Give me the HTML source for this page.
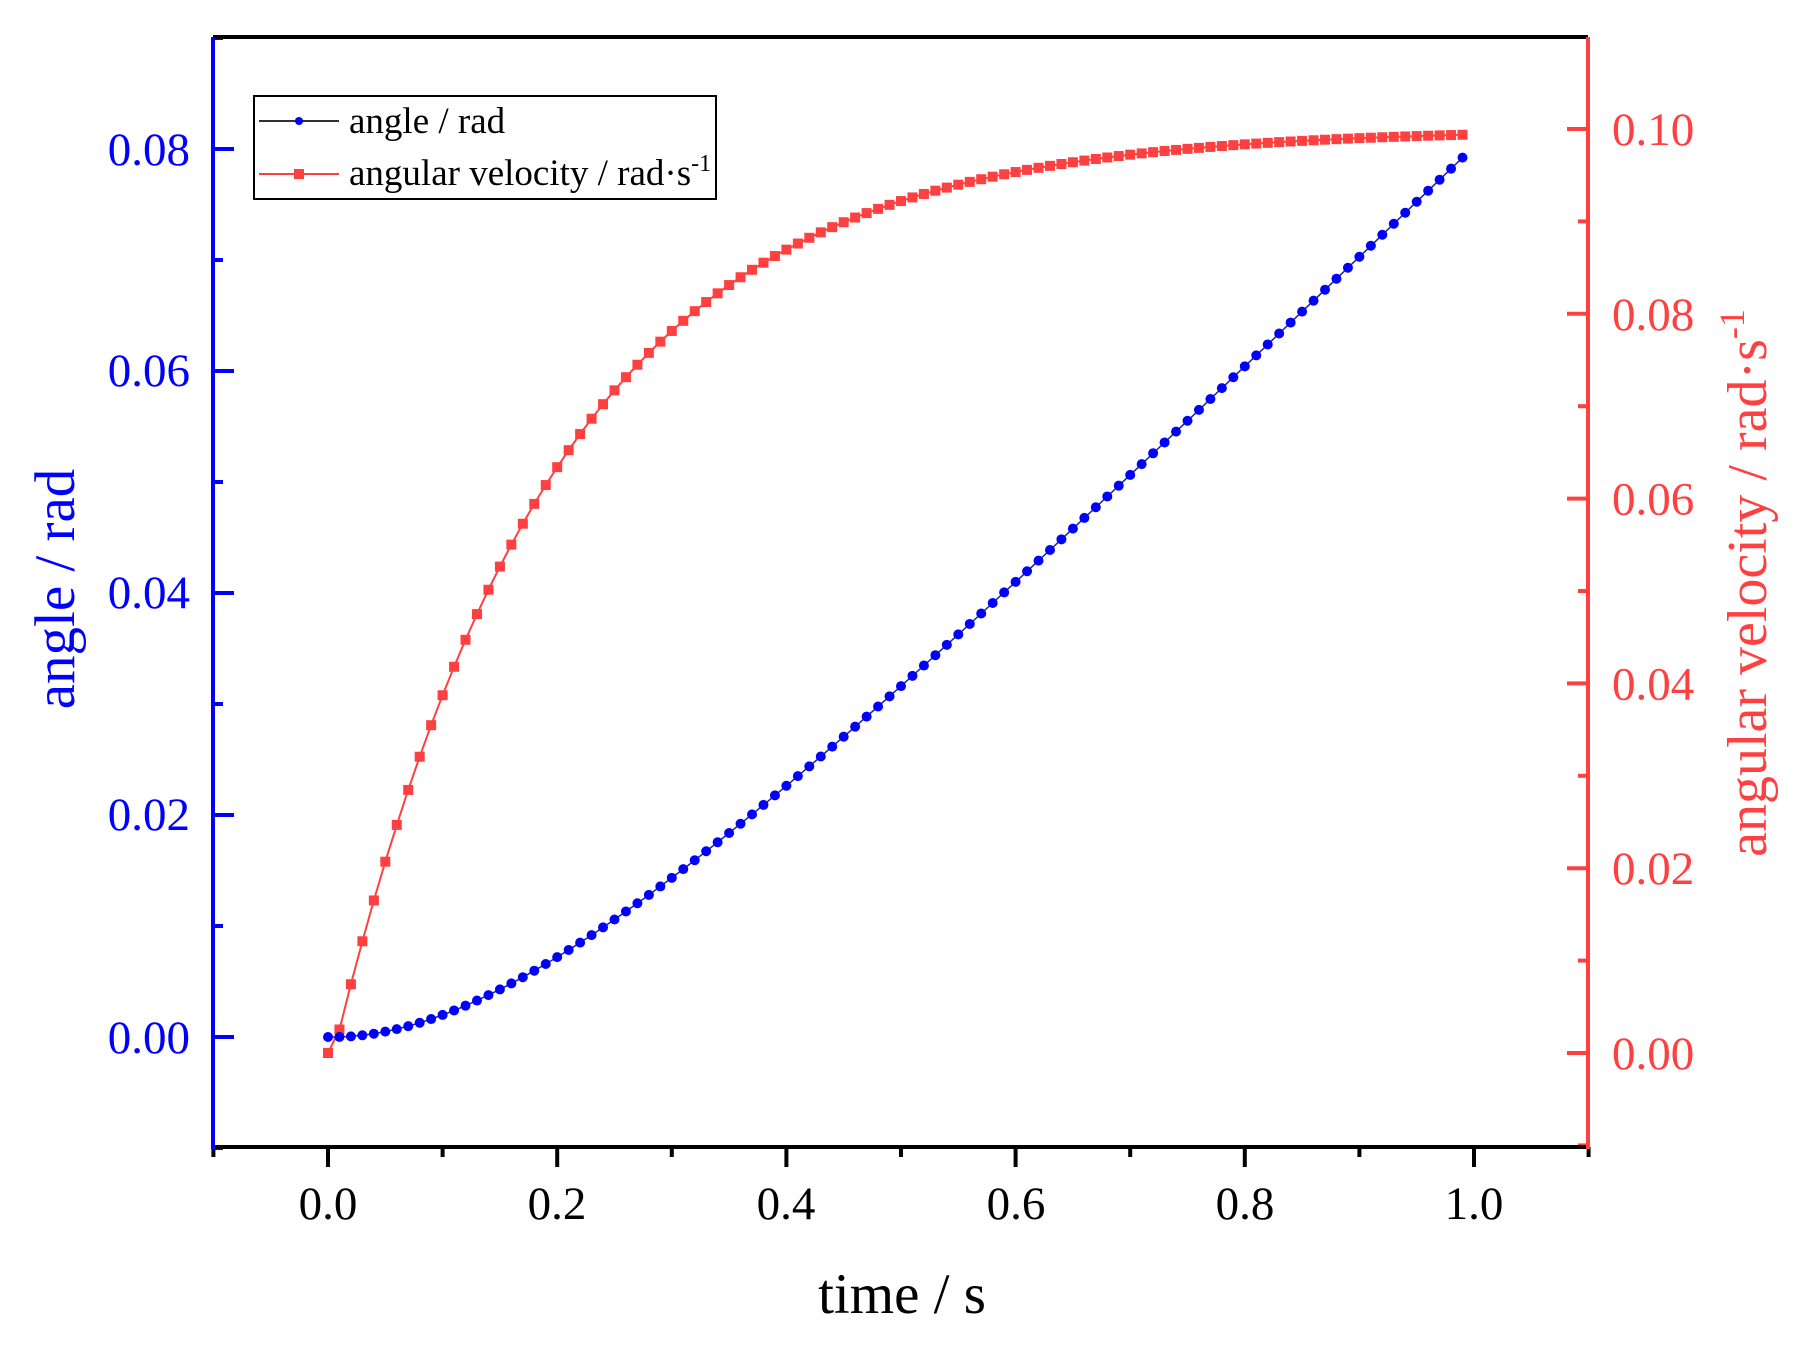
<!DOCTYPE html>
<html><head><meta charset="utf-8"><style>
html,body{margin:0;padding:0;background:#fff;}
svg{display:block;font-family:"Liberation Serif",serif;}
</style></head><body>
<svg id="s" width="1794" height="1349" viewBox="0 0 1794 1349" xmlns="http://www.w3.org/2000/svg">
<rect width="1794" height="1349" fill="#fff"/>
<g id="ticks"></g>
<polyline id="rl" fill="none" stroke="#ff4040" stroke-width="2"/>
<polyline id="bl" fill="none" stroke="#2020a0" stroke-width="1.5"/>
<g id="rm" fill="#ff4040"></g>
<g id="bm" fill="#0000ff"></g>
<line x1="213" y1="37" x2="1588" y2="37" stroke="#000" stroke-width="4"/>
<line x1="213" y1="1147" x2="1588" y2="1147" stroke="#000" stroke-width="4"/>
<line x1="213" y1="37" x2="213" y2="1149" stroke="#0000ff" stroke-width="4"/>
<line x1="1588" y1="37" x2="1588" y2="1149" stroke="#ff4040" stroke-width="4"/>
<g font-size="47" fill="#0000ff" text-anchor="end">
<text x="190" y="165">0.08</text><text x="190" y="386">0.06</text><text x="190" y="608">0.04</text><text x="190" y="830">0.02</text><text x="190" y="1053">0.00</text>
</g>
<g font-size="47" fill="#ff4040" text-anchor="start" id="rlab"></g>
<g font-size="47" fill="#000" text-anchor="middle">
<text x="328" y="1219">0.0</text><text x="557" y="1219">0.2</text><text x="786" y="1219">0.4</text><text x="1016" y="1219">0.6</text><text x="1245" y="1219">0.8</text><text x="1474" y="1219">1.0</text>
</g>
<text x="902" y="1313" font-size="57" text-anchor="middle" fill="#000">time / s</text>
<text transform="translate(74,589) rotate(-90)" font-size="57" text-anchor="middle" fill="#0000ff">angle / rad</text>
<text transform="translate(1766,583) rotate(-90)" font-size="56" text-anchor="middle" fill="#ff4040">angular velocity / rad·s<tspan dy="-22" font-size="36">-1</tspan></text>
<rect x="254" y="96" width="462" height="103" fill="#fff" stroke="#000" stroke-width="2"/>
<line x1="259" y1="121" x2="339" y2="121" stroke="#333" stroke-width="2"/>
<circle cx="299" cy="121" r="4" fill="#0000ff"/>
<line x1="259" y1="174" x2="339" y2="174" stroke="#ff4040" stroke-width="2"/>
<rect x="294" y="169" width="10" height="10" fill="#ff4040"/>
<text x="349" y="133" font-size="37" fill="#000">angle / rad</text>
<text x="349" y="185" font-size="37" fill="#000">angular velocity / rad·s<tspan dy="-14" font-size="24">-1</tspan></text>
</svg>
<script>
var NS="http://www.w3.org/2000/svg";
function el(p,t,a){var e=document.createElementNS(NS,t);for(var k in a)e.setAttribute(k,a[k]);p.appendChild(e);return e;}
var tk=document.getElementById('ticks');
function X(t){return 328+t*1146;}
function YA(a){return 1037-a*11100;}
function YW(w){return 1053-w*9240;}
for(var i=-1;i<=11;i++){var x=X(i/10);var L=(i%2==0)?20:10;el(tk,'line',{x1:x,y1:1147,x2:x,y2:1147+L,stroke:'#000','stroke-width':4});}
for(var i=-1;i<=9;i++){var y=YA(i/100);var L=(i%2==0)?21:10;el(tk,'line',{x1:213,y1:y,x2:213+L,y2:y,stroke:'#0000ff','stroke-width':4});}
for(var i=-1;i<=11;i++){var y=YW(i/100);if(y<37)continue;var L=(i%2==0)?21:10;el(tk,'line',{x1:1588,y1:y,x2:1588-L,y2:y,stroke:'#ff4040','stroke-width':4});}
var rl=document.getElementById('rlab');
["0.00","0.02","0.04","0.06","0.08","0.10"].forEach(function(s,i){var t=el(rl,'text',{x:1612,y:YW(i*0.02)+16});t.textContent=s;});
var tau=0.194,d=0.005;
function w(t){return t<=d?0:0.1*(1-Math.exp(-(t-d)/tau));}
function a(t){if(t<=d)return 0;var s=t-d;return 0.1*(s-tau*(1-Math.exp(-s/tau)));}
var rp=[],bp=[],rm=document.getElementById('rm'),bm=document.getElementById('bm');
for(var i=0;i<=99;i++){var t=i/100;var x=X(t),yr=YW(w(t)),yb=YA(a(t));
rp.push(x.toFixed(1)+','+yr.toFixed(1));bp.push(x.toFixed(1)+','+yb.toFixed(1));}
document.getElementById('rl').setAttribute('points',rp.join(' '));
document.getElementById('bl').setAttribute('points',bp.join(' '));
for(var i=0;i<=99;i++){var t=i/100;var x=X(t);
el(rm,'rect',{x:x-5,y:YW(w(t))-5,width:10,height:10});
el(bm,'circle',{cx:x,cy:YA(a(t)),r:5});}
</script>
</body></html>
